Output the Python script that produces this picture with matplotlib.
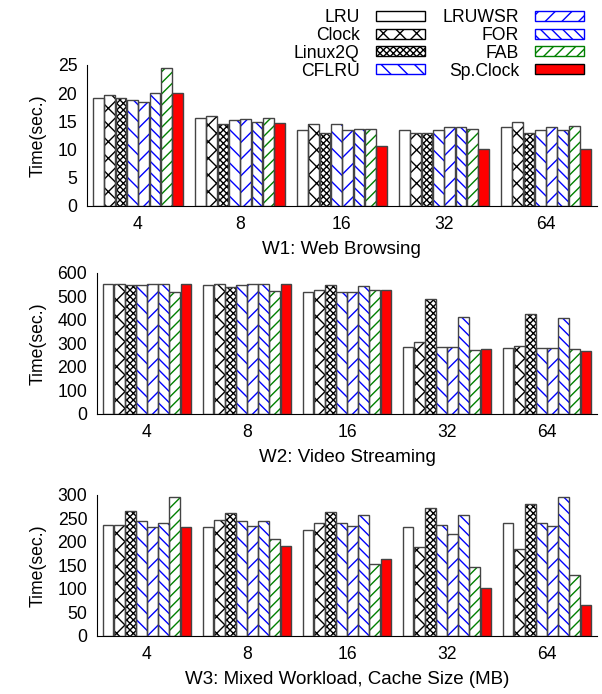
import numpy as np
import matplotlib
matplotlib.use('Agg')
import matplotlib.pyplot as plt
from matplotlib.patches import Patch

plt.rcParams['font.family'] = ['Liberation Sans', 'DejaVu Sans']
plt.rcParams['font.size'] = 12.7
plt.rcParams['hatch.linewidth'] = 1.0

cache_sizes = ['4', '8', '16', '32', '64']
policies = ['LRU', 'Clock', 'Linux2Q', 'CFLRU', 'LRUWSR', 'FOR', 'FAB', 'Sp.Clock']

# W1: Web Browsing (sec.), one list per policy across cache sizes
w1 = {
    'LRU':      [19.2, 15.6, 13.5, 13.5, 14.0],
    'Clock':    [19.6, 16.0, 14.6, 13.0, 14.9],
    'Linux2Q':  [19.2, 14.6, 13.0, 13.0, 13.0],
    'CFLRU':    [18.7, 15.2, 14.5, 13.5, 13.5],
    'LRUWSR':   [18.5, 15.5, 13.5, 14.0, 14.0],
    'FOR':      [20.1, 14.9, 13.6, 14.0, 13.5],
    'FAB':      [24.5, 15.6, 13.7, 13.6, 14.2],
    'Sp.Clock': [20.1, 14.7, 10.7, 10.1, 10.1],
}
# W2: Video Streaming
w2 = {
    'LRU':      [553, 549, 519, 283, 280],
    'Clock':    [553, 553, 526, 306, 291],
    'Linux2Q':  [549, 540, 547, 489, 425],
    'CFLRU':    [550, 549, 519, 283, 280],
    'LRUWSR':   [553, 552, 519, 283, 280],
    'FOR':      [553, 555, 543, 412, 408],
    'FAB':      [520, 522, 529, 274, 276],
    'Sp.Clock': [553, 555, 526, 276, 267],
}
# W3: Mixed Workload
w3 = {
    'LRU':      [237, 231, 225, 232, 240],
    'Clock':    [237, 247, 240, 189, 186],
    'Linux2Q':  [265, 261, 263, 272, 280],
    'CFLRU':    [244, 245, 240, 236, 241],
    'LRUWSR':   [232, 235, 235, 218, 233],
    'FOR':      [240, 244, 257, 257, 295],
    'FAB':      [295, 207, 154, 146, 130],
    'Sp.Clock': [232, 191, 163, 103, 66],
}

styles = {
    'LRU':      dict(fc='white', hatch='', hc='black'),
    'Clock':    dict(fc='white', hatch='xx', hc='black'),
    'Linux2Q':  dict(fc='white', hatch='xxxxx', hc='black'),
    'CFLRU':    dict(fc='white', hatch='\\\\', hc='blue'),
    'LRUWSR':   dict(fc='white', hatch='//', hc='blue'),
    'FOR':      dict(fc='white', hatch='\\\\\\', hc='blue'),
    'FAB':      dict(fc='white', hatch='///', hc='green'),
    'Sp.Clock': dict(fc='red', hatch='', hc='red'),
}

panels = [
    (w1, 'W1: Web Browsing', [0, 25], np.arange(0, 26, 5), [0.1445, 0.7032, 0.847, 0.2032]),
    (w2, 'W2: Video Streaming', [0, 600], np.arange(0, 601, 100), [0.1611, 0.4035, 0.8306, 0.2032]),
    (w3, 'W3: Mixed Workload, Cache Size (MB)', [0, 300], np.arange(0, 301, 50), [0.1611, 0.0836, 0.8306, 0.2032]),
]

fig = plt.figure(figsize=(6.02, 6.94), dpi=100)
x = np.arange(len(cache_sizes))
bw = 0.111

for data, xlabel, ylim, yticks, pos in panels:
    ax = fig.add_axes(pos)
    for i, p in enumerate(policies):
        st = styles[p]
        xs = x - 3.5 * bw + i * bw
        ax.bar(xs, data[p], bw * 0.95, color=st['fc'], hatch=st['hatch'],
               edgecolor=st['hc'], linewidth=0, zorder=2)
        ax.bar(xs, data[p], bw * 0.95, fill=False, edgecolor='#444444',
               linewidth=1.0, zorder=3)
    ax.set_xlim(-0.5, 4.5)
    ax.set_ylim(ylim)
    ax.set_yticks(yticks)
    ax.set_xticks(x)
    ax.set_xticklabels(cache_sizes)
    ax.tick_params(length=0, pad=7)
    ax.spines['top'].set_visible(False)
    ax.spines['right'].set_visible(False)
    ax.set_xlabel(xlabel, labelpad=6, fontsize=13.5)
    ax.set_ylabel('Time(sec.)', labelpad=8)

handles = []
for p in policies:
    st = styles[p]
    handles.append(Patch(facecolor=st['fc'], hatch=st['hatch'],
                         edgecolor=st['hc'] if st['hatch'] else 'black', linewidth=1.0))
fig.legend(handles, policies, loc='upper right', bbox_to_anchor=(0.997, 1.01),
           ncol=2, frameon=False, markerfirst=False, handlelength=2.8,
           handleheight=0.5, labelspacing=0.05, columnspacing=1.0,
           handletextpad=0.9)

fig.savefig('out.png', dpi=100)
